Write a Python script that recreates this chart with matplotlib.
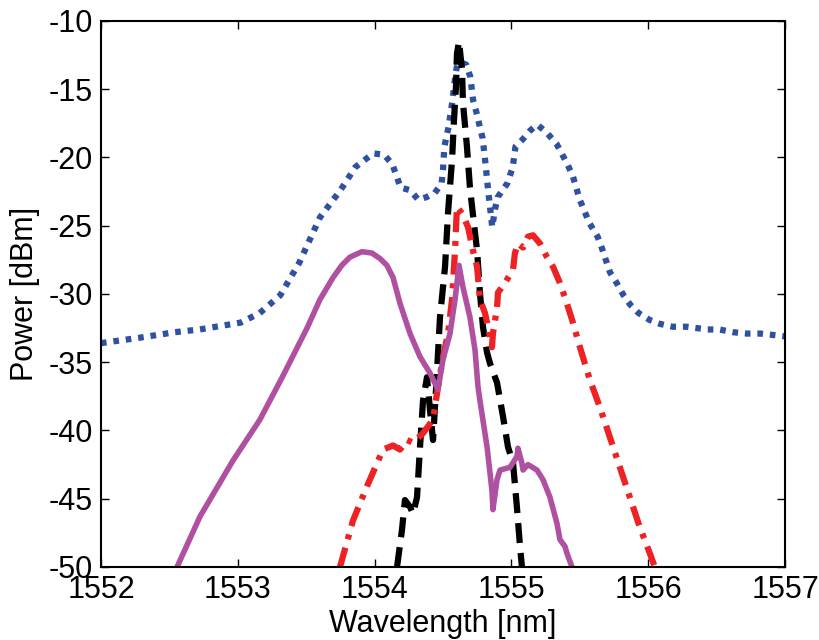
import matplotlib
matplotlib.use("Agg")
import matplotlib.pyplot as plt

# wavelength [nm] / power [dBm]
blue_wl = [1552.00, 1552.285, 1552.54, 1552.72, 1553.02, 1553.16, 1553.31, 1553.45,
           1553.60, 1553.75, 1553.86, 1553.99, 1554.07, 1554.13, 1554.19, 1554.26,
           1554.32, 1554.38, 1554.44, 1554.49, 1554.50, 1554.51, 1554.54, 1554.57,
           1554.58, 1554.60, 1554.62, 1554.67, 1554.70, 1554.72, 1554.75, 1554.77,
           1554.79, 1554.81, 1554.83, 1554.84, 1554.86, 1554.88, 1554.90, 1554.97,
           1555.01, 1555.03, 1555.08, 1555.14, 1555.19, 1555.26, 1555.33, 1555.41,
           1555.45, 1555.50, 1555.57, 1555.63, 1555.66, 1555.72, 1555.77, 1555.82,
           1555.87, 1555.93, 1556.01, 1556.09, 1556.18, 1556.28, 1556.43, 1556.52,
           1556.62, 1556.72, 1556.82, 1556.91, 1557.00]
blue_pw = [-33.6, -33.2, -32.8, -32.6, -32.1, -31.4, -30.1, -27.7,
           -24.4, -22.4, -20.7, -19.7, -19.8, -20.5, -22.2, -22.4,
           -23.1, -22.9, -22.6, -21.9, -20.9, -19.2, -17.8, -15.8,
           -14.8, -13.4, -13.0, -13.2, -14.1, -15.8, -16.9, -17.8,
           -18.6, -20.4, -22.4, -23.3, -25.1, -23.8, -22.9, -21.9,
           -20.7, -19.2, -18.7, -18.0, -17.6, -18.2, -19.0, -20.5,
           -21.4, -23.1, -24.8, -25.8, -26.6, -28.4, -29.2, -30.1,
           -30.8, -31.4, -31.9, -32.2, -32.4, -32.4, -32.6, -32.6,
           -32.8, -32.9, -32.9, -33.0, -33.1]

purple_wl = [1552.556, 1552.724, 1552.965, 1553.162, 1553.330, 1553.506, 1553.601,
             1553.696, 1553.760, 1553.820, 1553.908, 1553.980, 1554.039, 1554.090,
             1554.135, 1554.186, 1554.259, 1554.332, 1554.405, 1554.463, 1554.500,
             1554.551, 1554.588, 1554.617, 1554.646, 1554.697, 1554.734, 1554.756,
             1554.770, 1554.822, 1554.858, 1554.865, 1554.895, 1554.917, 1554.990,
             1555.041, 1555.048, 1555.077, 1555.085, 1555.121, 1555.187, 1555.231,
             1555.282, 1555.333, 1555.355, 1555.392, 1555.406, 1555.443]
purple_pw = [-50.0, -46.3, -42.2, -39.2, -36.0, -32.5, -30.4,
             -28.8, -27.9, -27.3, -26.9, -27.0, -27.4, -27.9,
             -28.8, -30.7, -32.9, -34.6, -35.8, -37.0, -34.8,
             -32.9, -30.4, -27.9, -29.5, -31.7, -34.1, -36.8,
             -37.8, -41.2, -44.4, -45.8, -43.6, -42.9, -42.7,
             -41.9, -41.3, -42.4, -42.9, -42.5, -42.9, -43.6,
             -44.9, -46.8, -48.0, -48.5, -49.0, -50.0]

red_wl = [1553.747, 1553.842, 1553.944, 1554.018, 1554.061, 1554.135, 1554.186,
          1554.237, 1554.281, 1554.354, 1554.427, 1554.456, 1554.500, 1554.537,
          1554.566, 1554.588, 1554.602, 1554.639, 1554.683, 1554.719, 1554.749,
          1554.770, 1554.807, 1554.829, 1554.858, 1554.865, 1554.895, 1554.902,
          1554.953, 1555.012, 1555.026, 1555.048, 1555.085, 1555.121, 1555.158,
          1555.209, 1555.260, 1555.304, 1555.355, 1555.406, 1555.450, 1555.501,
          1555.574, 1555.647, 1555.720, 1555.793, 1555.866, 1555.939, 1556.012,
          1556.048]
red_pw = [-50.0, -46.6, -44.1, -42.4, -41.4, -41.1, -41.4,
          -40.7, -40.9, -40.2, -39.2, -37.3, -34.6, -32.9,
          -30.4, -26.8, -23.6, -24.1, -25.1, -26.8, -28.0,
          -30.4, -31.4, -32.4, -33.9, -32.9, -31.0, -29.9,
          -29.2, -28.2, -27.0, -26.3, -26.6, -25.8, -25.7,
          -26.3, -27.3, -28.0, -29.2, -30.7, -32.1, -33.9,
          -36.3, -38.3, -40.5, -42.7, -44.9, -47.1, -49.0,
          -50.0]

black_wl = [1554.164, 1554.200, 1554.222, 1554.259, 1554.281, 1554.310, 1554.332,
            1554.354, 1554.383, 1554.405, 1554.427, 1554.449, 1554.478, 1554.515,
            1554.537, 1554.566, 1554.580, 1554.595, 1554.602, 1554.617, 1554.639,
            1554.646, 1554.675, 1554.697, 1554.719, 1554.749, 1554.770, 1554.792,
            1554.822, 1554.844, 1554.895, 1554.939, 1554.975, 1555.012, 1555.041,
            1555.063, 1555.077]
black_pw = [-50.0, -47.3, -45.1, -45.6, -46.1, -44.9, -41.2,
            -37.8, -36.1, -38.5, -40.7, -37.0, -31.7, -28.0,
            -24.0, -20.2, -17.3, -14.8, -12.4, -11.5, -13.6,
            -16.0, -19.2, -22.2, -24.2, -26.8, -29.9, -32.4,
            -34.3, -35.1, -36.5, -39.0, -41.2, -42.4, -45.7,
            -48.5, -50.0]

x_ticks = [1552, 1553, 1554, 1555, 1556, 1557]
y_ticks = [-50, -45, -40, -35, -30, -25, -20, -15, -10]

plt.rcParams['font.family'] = ['Liberation Sans', 'DejaVu Sans']
plt.rcParams['axes.unicode_minus'] = False

fig = plt.figure(figsize=(8.19, 6.40), dpi=100)
ax = fig.add_axes([0.1233, 0.1141, 0.8352, 0.8531])

ax.plot(blue_wl, blue_pw, color='#3050a0', lw=4.5, linestyle=(0, (0.9, 1.1)),
        dash_capstyle='butt')
ax.plot(black_wl, black_pw, color='black', lw=4.5, linestyle=(0, (3.2, 1.6)))
ax.plot(red_wl, red_pw, color='#ee2224', lw=4.5, linestyle=(0, (3.2, 1.4, 0.8, 1.4)))
ax.plot(purple_wl, purple_pw, color='#b050a0', lw=4, solid_joinstyle='round')

ax.set_xlim(1552, 1557)
ax.set_ylim(-50, -10)
ax.set_xticks(x_ticks)
ax.set_yticks(y_ticks)
ax.tick_params(direction='in', top=True, right=True, length=6, width=1,
               labelsize=22, pad=6)
for s in ax.spines.values():
    s.set_linewidth(1.5)

ax.set_xlabel('Wavelength [nm]', fontsize=22, labelpad=3)
ax.set_ylabel('Power [dBm]', fontsize=22, labelpad=6)

fig.savefig('out.png', dpi=100)
